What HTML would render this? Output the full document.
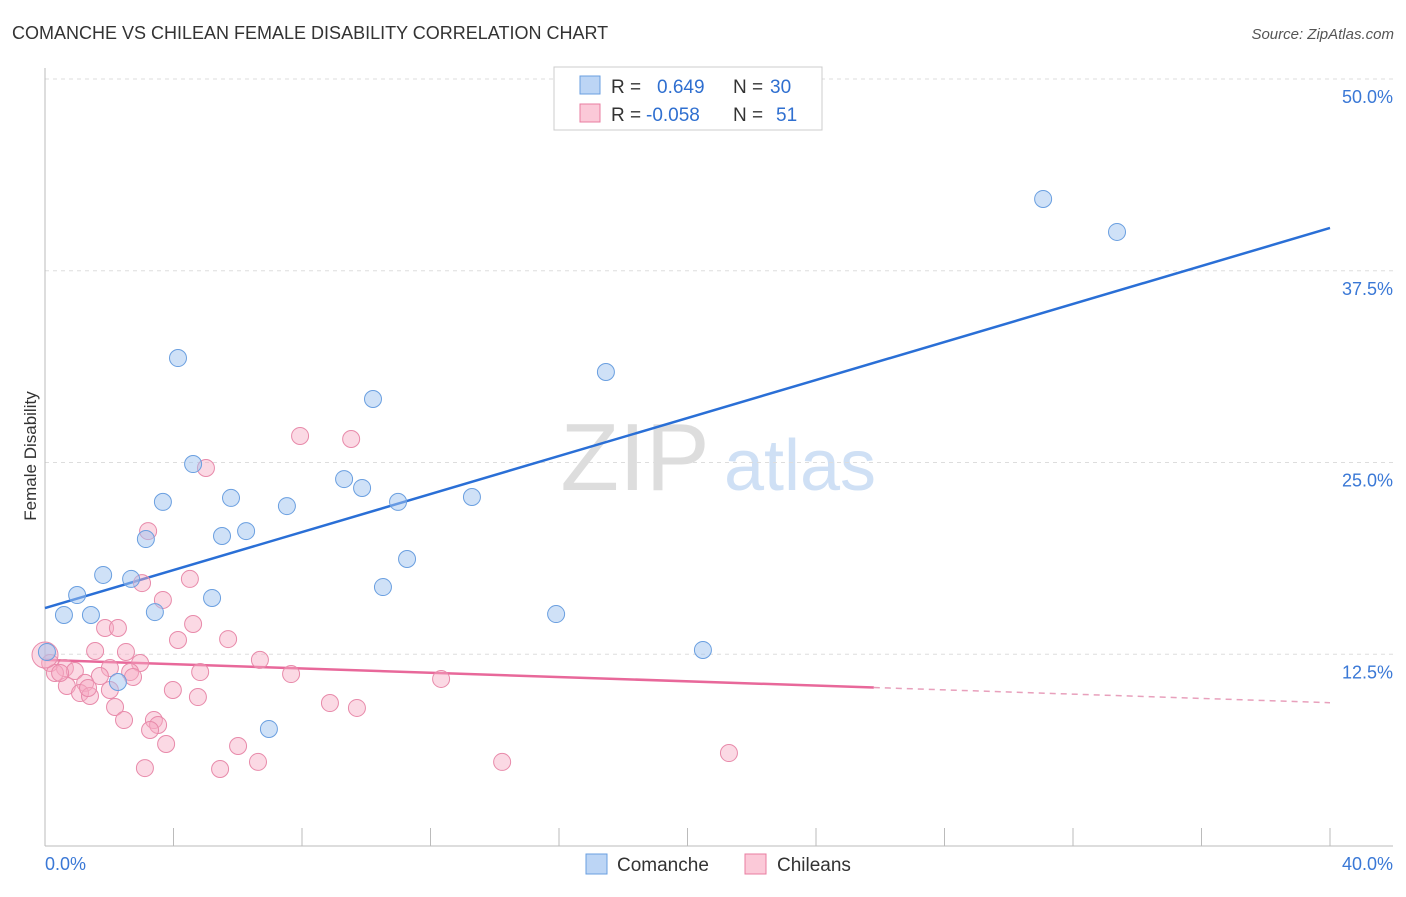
<!DOCTYPE html>
<html><head><meta charset="utf-8"><style>
body{margin:0;background:#fff;font-family:"Liberation Sans",sans-serif}
svg text{font-family:"Liberation Sans",sans-serif}
</style></head><body>
<svg id="c" width="1406" height="892">
<text x="12" y="39" font-size="18" fill="#333">COMANCHE VS CHILEAN FEMALE DISABILITY CORRELATION CHART</text>
<text x="1394" y="39" font-size="15" fill="#555" font-style="italic" text-anchor="end">Source: ZipAtlas.com</text>
<text x="16" y="456" font-size="17" fill="#333" transform="rotate(-90 30 456)" text-anchor="middle" x2="0"><tspan x="30" y="462">Female Disability</tspan></text>
<text x="635" y="490" font-size="96" fill="#ddd" font-family="Liberation Serif" text-anchor="middle">ZIP</text>
<text x="800" y="490" font-size="72" fill="#cfe0f5" text-anchor="middle">atlas</text>
<g id="grid"></g><g id="lines"></g><g id="pts"></g>
<rect x="554" y="67" width="268" height="63" fill="#fff" stroke="#ccc"/>
<rect x="580" y="76" width="20" height="18" fill="#bcd5f5" stroke="#6a9fe0"/>
<rect x="580" y="104" width="20" height="18" fill="#fbc9d8" stroke="#e87da0"/>
<text x="611" y="93" font-size="19" fill="#333">R = <tspan fill="#2f6fd0" x="657">0.649</tspan><tspan x="733" fill="#333">N = </tspan><tspan fill="#2f6fd0" x="770">30</tspan></text>
<text x="611" y="121" font-size="19" fill="#333">R = <tspan fill="#2f6fd0" x="646">-0.058</tspan><tspan x="733" fill="#333">N = </tspan><tspan fill="#2f6fd0" x="776">51</tspan></text>
<rect x="586" y="854" width="21" height="20" fill="#bcd5f5" stroke="#6a9fe0"/>
<text x="617" y="871" font-size="19" fill="#333">Comanche</text>
<rect x="745" y="854" width="21" height="20" fill="#fbc9d8" stroke="#e87da0"/>
<text x="777" y="871" font-size="19" fill="#333">Chileans</text>
</svg>
<script>
const yTicks=[12.5,25,37.5,50];
const yTickLabels=["12.5%","25.0%","37.5%","50.0%"];
const xTickLabels=["0.0%","40.0%"];
const comancheX=[31.07,33.37,4.14,17.46,10.21,4.61,9.31,9.87,5.79,3.67,13.29,7.53,10.99,6.26,5.51,3.14,11.27,1.81,2.68,10.52,1.00,5.20,3.42,0.59,1.43,15.91,20.48,0.06,2.27,6.97];
const comancheY=[42.18,40.03,31.81,30.90,29.14,24.90,23.92,23.34,22.69,22.43,22.75,22.16,22.43,20.53,20.21,20.01,18.71,17.67,17.41,16.88,16.36,16.17,15.25,15.06,15.06,15.12,12.78,12.65,10.69,7.63];
const chileX=[7.94,9.53,5.01,3.21,3.02,4.51,3.67,1.87,2.27,4.61,4.14,5.70,1.56,2.52,2.96,6.69,0.16,0.62,0.93,0.31,2.02,2.65,4.83,7.66,1.71,2.74,12.33,1.25,0.68,1.09,1.40,3.98,4.76,2.18,8.87,9.71,2.46,3.39,3.52,3.77,6.01,21.29,14.23,6.63,3.11,5.45,0.47,0,2.02,1.34,3.27];
const chileY=[26.73,26.53,24.64,20.53,17.14,17.41,16.04,14.21,14.21,14.47,13.43,13.49,12.71,12.65,11.93,12.13,11.93,11.60,11.41,11.28,11.60,11.34,11.34,11.21,11.08,11.02,10.89,10.63,10.43,9.97,9.78,10.17,9.71,9.06,9.32,9.00,8.21,8.21,7.89,6.65,6.52,6.06,5.48,5.48,5.08,5.02,11.28,12.45,10.17,10.30,7.56];
const comancheTrend=[15.51,0.6195];
const chileTrend=[12.13,-0.0697];
const chileSolidMax=25.8;
const X=v=>45+v*1285/40, Y=v=>846-v*767/50;
const NS="http://www.w3.org/2000/svg";
function mk(tag,attrs,parent){const e=document.createElementNS(NS,tag);for(const k in attrs)e.setAttribute(k,attrs[k]);parent.appendChild(e);return e;}
const grid=document.getElementById('grid'),lines=document.getElementById('lines'),pts=document.getElementById('pts');
yTicks.forEach((t,i)=>{
 const l=mk('line',{x1:45,x2:1393,y1:Y(t),y2:Y(t),stroke:'#ddd','stroke-dasharray':'4,4'},grid);
 
 
 const tx=mk('text',{x:1393,y:Y(t)+24,'text-anchor':'end','font-size':18,fill:'#3a78d6'},grid);
 tx.textContent=yTickLabels[i];
 
 
});
const ax=mk('line',{x1:45,x2:1393,y1:846,y2:846,stroke:'#bbb'},grid);


const ay=mk('line',{x1:45,x2:45,y1:68,y2:846,stroke:'#bbb'},grid);


for(let v=0;v<=40;v+=4){
 const t=mk('line',{x1:X(v),x2:X(v),y1:828,y2:846,stroke:'#bbb'},grid);
 
 
}
[[0,'start',45],[40,'end',1393]].forEach((d,i)=>{
 const tx=mk('text',{x:d[2],y:870,'text-anchor':d[1],'font-size':18,fill:'#3a78d6'},grid);
 tx.textContent=xTickLabels[i];
 
 
});
const bl=mk('line',{x1:X(0),y1:Y(comancheTrend[0]),x2:X(40),y2:Y(comancheTrend[0]+40*comancheTrend[1]),stroke:'#2a6fd6','stroke-width':2.5},lines);


const pl=mk('line',{x1:X(0),y1:Y(chileTrend[0]),x2:X(chileSolidMax),y2:Y(chileTrend[0]+chileSolidMax*chileTrend[1]),stroke:'#e8689a','stroke-width':2.5},lines);


const pd=mk('line',{x1:X(chileSolidMax),y1:Y(chileTrend[0]+chileSolidMax*chileTrend[1]),x2:X(40),y2:Y(chileTrend[0]+40*chileTrend[1]),stroke:'#e8a0bc','stroke-width':1.5,'stroke-dasharray':'6,5'},lines);


chileX.forEach((x,i)=>{
 const r=(x===0)?13:8.5;
 const c=mk('circle',{cx:X(x),cy:Y(chileY[i]),r:r,fill:'rgba(247,170,196,0.45)',stroke:'#e88aaa','stroke-width':1},pts);
 
 
});
comancheX.forEach((x,i)=>{
 const c=mk('circle',{cx:X(x),cy:Y(comancheY[i]),r:8.5,fill:'rgba(160,196,240,0.5)',stroke:'#6a9fe0','stroke-width':1},pts);
 
 
});
</script>
</body></html>
